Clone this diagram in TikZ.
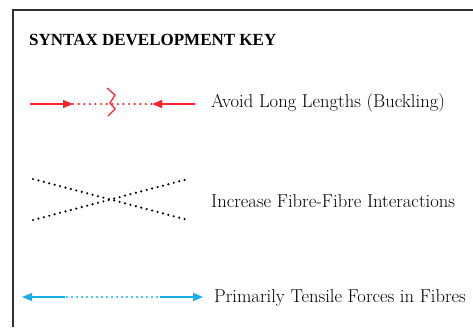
\documentclass[tikz,border=0pt]{standalone}
\usepackage{fontspec}
\usetikzlibrary{arrows.meta,positioning}

\newfontfamily\keytitlefont{Liberation Serif}

\definecolor{buckred}{HTML}{FF2630}
\definecolor{tensblue}{HTML}{1AAEE8}
\definecolor{framegray}{HTML}{303030}

\tikzset{
  keytext/.style={anchor=west, inner sep=0pt, font=\fontsize{18.6}{22}\selectfont},
  keytitle/.style={anchor=west, inner sep=0pt, font=\keytitlefont\fontsize{17}{20}\selectfont\bfseries},
  dotline/.style={line width=2.4pt, line cap=round, dash pattern=on 0pt off 5.6pt},
  tip/.style={-{Triangle[length=10pt,width=8pt]}},
}

\begin{document}
\begin{tikzpicture}[x=1pt, y=-1pt]
  \useasboundingbox (0,0) rectangle (473,327);

  % Frame
  \draw[framegray, line width=1.4pt] (13,327) -- (13,10) -- (473,10);
  \node[keytitle] (title) at (29,40) {SYNTAX DEVELOPMENT KEY};

  % Buckling
  \coordinate (bl) at (30,104);
  \coordinate (bla) at (73,104);
  \coordinate (bra) at (152,104);
  \coordinate (br) at (195,104);
  \draw[buckred, line width=1.3pt, tip] (bl) -- (bla);
  \draw[buckred, line width=1.3pt, tip] (br) -- (bra);
  \draw[buckred, dotline] (bla) -- (bra);
  \draw[buckred, line width=1.3pt] (107,88) -- (115,95) -- (110,103) -- (115,109) -- (108,116);
  \node[keytext] (buckling) at (211,103) {Avoid Long Lengths (Buckling)};

  % Fibre-fibre
  \coordinate (xa) at (33,179);
  \coordinate (xb) at (188,220);
  \coordinate (xc) at (33,220);
  \coordinate (xd) at (188,179);
  \draw[black, dotline] (xa) -- (xb);
  \draw[black, dotline] (xc) -- (xd);
  \node[keytext] (interact) at (211,201) {Increase Fibre-Fibre Interactions};

  % Tension
  \coordinate (tl) at (22,297);
  \coordinate (tla) at (65,297);
  \coordinate (tra) at (160,297);
  \coordinate (tr) at (203,297);
  \draw[tensblue, line width=1.2pt, tip] (tla) -- (tl);
  \draw[tensblue, line width=1.2pt, tip] (tra) -- (tr);
  \draw[tensblue, line width=2.4pt, line cap=round, dash pattern=on 0pt off 5pt] (32,297) -- (196,297);
  \node[keytext] (tension) at (214,298) {Primarily Tensile Forces in Fibres};
\end{tikzpicture}
\end{document}
